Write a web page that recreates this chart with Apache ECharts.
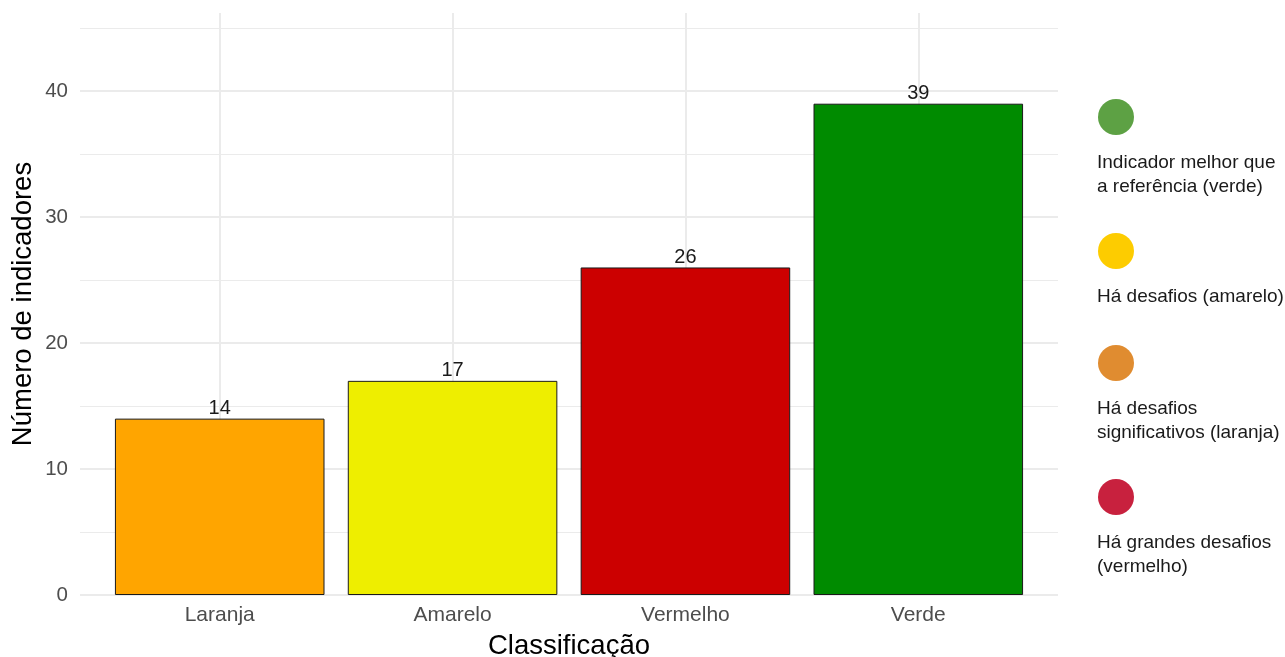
<!DOCTYPE html>
<html>
<head>
<meta charset="utf-8">
<script src="https://cdn.jsdelivr.net/npm/echarts@6/dist/echarts.min.js"></script>
<style>
html,body{margin:0;padding:0;background:#fff;}
#chart{width:1285px;height:657px;}
</style>
</head>
<body>
<div id="chart"></div>
<script>
const categories = ['Laranja', 'Amarelo', 'Vermelho', 'Verde'];
const values = [14, 17, 26, 39];
const barColors = ['#FFA500', '#EEEE00', '#CC0000', '#008B00'];
const legendLabels = [
  'Indicador melhor que\na referência (verde)',
  'Há desafios (amarelo)',
  'Há desafios\nsignificativos (laranja)',
  'Há grandes desafios\n(vermelho)'
];
const legendColors = ['#5DA144', '#FDCC00', '#E08C30', '#C8213E'];
const legendY = [117, 251, 363, 497];
const yMax = 46.2;
const yLabelTicks = [0, 10, 20, 30, 40];

const FONT = '"Liberation Sans", Arial, sans-serif';
const grid0 = {left: 80, right: 227, top: 13, bottom: 62, outerBoundsMode: 'none', containLabel: false};
const plotW = 1285 - grid0.left - grid0.right;
const unit = plotW / (categories.length + 0.2);
const grid1 = {left: grid0.left + 0.1 * unit, right: grid0.right + 0.1 * unit, top: 13, bottom: 62, outerBoundsMode: 'none', containLabel: false};

const chart = echarts.init(document.getElementById('chart'), null, {renderer: 'canvas'});

const graphics = [];
legendLabels.forEach((t, i) => {
  graphics.push({type: 'circle', left: 1098, top: legendY[i] - 18, shape: {r: 18}, style: {fill: legendColors[i]}, silent: true});
  graphics.push({type: 'text', left: 1097, top: legendY[i] + 34, style: {text: t, fill: '#1a1a1a', font: '19px ' + FONT, lineHeight: 24}, silent: true});
});

chart.setOption({
  animation: false,
  backgroundColor: '#ffffff',
  textStyle: {fontFamily: FONT},
  grid: [grid0, grid1],
  xAxis: [
    {gridIndex: 0, type: 'value', min: 0, max: 1, show: false},
    {gridIndex: 1, type: 'category', data: categories,
     axisLine: {show: false}, axisTick: {show: false}, splitLine: {show: false},
     axisLabel: {color: '#4d4d4d', fontSize: 21, margin: 10, fontFamily: FONT},
     name: 'Classificação', nameLocation: 'middle', nameGap: 37,
     nameTextStyle: {color: '#000', fontSize: 27.5, fontFamily: FONT}}
  ],
  yAxis: [
    {gridIndex: 0, type: 'value', min: 0, max: yMax, interval: 10,
     axisLine: {show: false}, axisTick: {show: false},
     splitLine: {show: true, showMaxLine: false, lineStyle: {color: '#ebebeb', width: 2}},
     axisLabel: {color: '#4d4d4d', fontSize: 20.5, margin: 12, fontFamily: FONT,
       formatter: v => (yLabelTicks.indexOf(v) >= 0 ? String(v) : '')},
     name: 'Número de indicadores', nameLocation: 'middle', nameGap: 43, nameMoveOverlap: false,
     nameTextStyle: {color: '#000', fontSize: 27.5, fontFamily: FONT}},
    {gridIndex: 0, type: 'value', min: 0, max: yMax, interval: 5,
     axisLine: {show: false}, axisTick: {show: false}, axisLabel: {show: false},
     splitLine: {show: true, showMaxLine: false, lineStyle: {color: '#ebebeb', width: 1}}},
    {gridIndex: 1, type: 'value', min: 0, max: yMax, show: false, splitLine: {show: false}}
  ],
  graphic: graphics,
  series: [
    {type: 'bar', xAxisIndex: 1, yAxisIndex: 2, barWidth: '90%', z: 3,
     data: values.map((v, i) => ({value: v, itemStyle: {color: barColors[i]}})),
     itemStyle: {borderColor: '#1a1a1a', borderWidth: 1},
     label: {show: true, position: 'top', distance: 0, color: '#1a1a1a', fontSize: 20, fontFamily: FONT},
     markLine: {silent: true, symbol: 'none', z: 1, label: {show: false},
       lineStyle: {color: '#ebebeb', width: 2, type: 'solid'},
       emphasis: {disabled: true},
       data: categories.map(c => ({xAxis: c}))}
    }
  ]
});
</script>
</body>
</html>
